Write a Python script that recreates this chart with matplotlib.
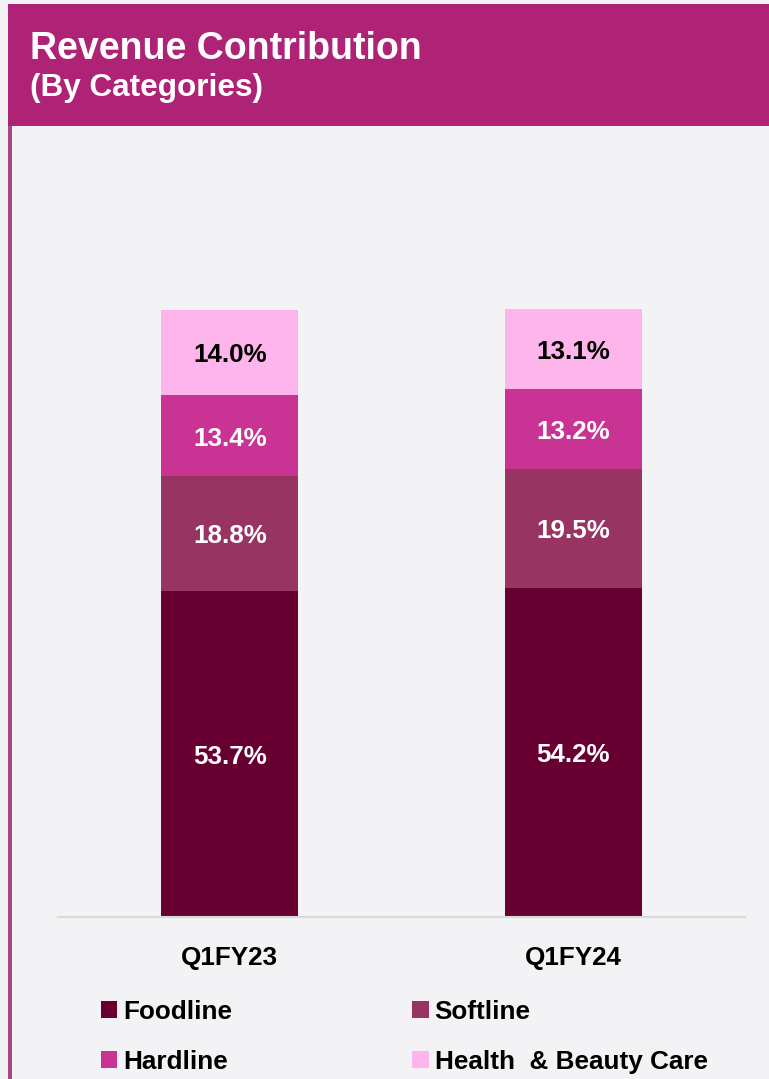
import matplotlib
matplotlib.use("Agg")
import matplotlib.pyplot as plt
from matplotlib.patches import Rectangle
import numpy as np

periods = ["Q1FY23", "Q1FY24"]
categories = ["Foodline", "Softline", "Hardline", "Health  & Beauty Care"]
values = {
    "Foodline": [53.7, 54.2],
    "Softline": [18.8, 19.5],
    "Hardline": [13.4, 13.2],
    "Health  & Beauty Care": [14.0, 13.1],
}
colors = {
    "Foodline": "#670030",
    "Softline": "#983462",
    "Hardline": "#C93394",
    "Health  & Beauty Care": "#FDB5EC",
}
label_colors = {
    "Foodline": "white",
    "Softline": "white",
    "Hardline": "white",
    "Health  & Beauty Care": "black",
}

plt.rcParams["font.family"] = ["Liberation Sans", "DejaVu Sans"]

W, H = 769, 1079
fig = plt.figure(figsize=(W / 100, H / 100), dpi=100)
fig.patch.set_facecolor("#F3F3F5")

def fx(px):
    return px / W

def fy(py):
    return 1 - py / H

# header band
fig.patches.append(Rectangle((fx(8), fy(126)), 1 - fx(8), fy(4) - fy(126),
                             transform=fig.transFigure, facecolor="#AF2377",
                             edgecolor="none", zorder=0))
# left vertical line
fig.patches.append(Rectangle((fx(8), 0), fx(4), fy(126),
                             transform=fig.transFigure, facecolor="#A6497E",
                             edgecolor="none", zorder=0))

fig.text(fx(30), fy(59), "Revenue Contribution", color="white",
         fontsize=27, fontweight="bold", va="baseline", ha="left")
fig.text(fx(30), fy(96), "(By Categories)", color="white",
         fontsize=22.7, fontweight="bold", va="baseline", ha="left")

# axes: bottom at y=916, top at y=200; left x=58, right x=745
ax_left, ax_right = 58, 745
ax_bottom, ax_top = 917, 200
ax = fig.add_axes([fx(ax_left), fy(ax_bottom), fx(ax_right - ax_left),
                   fy(ax_top) - fy(ax_bottom)])
ax.set_facecolor("none")
px_per_unit = 607 / 99.9
ax.set_ylim(0, (ax_bottom - ax_top) / px_per_unit)
ax.set_xlim(-0.5, 1.5)

x = np.arange(len(periods))
bottom = np.zeros(len(periods))
handles = {}
for cat in categories:
    vals = np.array(values[cat])
    bars = ax.bar(x, vals, width=0.4, bottom=bottom, color=colors[cat],
                  edgecolor="none", label=cat, zorder=2)
    ax.bar_label(bars, labels=[f"{v:.1f}%" for v in vals], label_type="center",
                 color=label_colors[cat], fontsize=18.7, fontweight="bold",
                 padding=-2)
    handles[cat] = bars
    bottom += vals

for s in ["top", "right", "left"]:
    ax.spines[s].set_visible(False)
ax.spines["bottom"].set_color("#D9D9D9")
ax.spines["bottom"].set_linewidth(1.5)
ax.set_yticks([])
ax.set_xticks(x)
ax.set_xticklabels(periods, fontsize=18.7, fontweight="bold")
ax.tick_params(axis="x", length=0, pad=21)

order = ["Foodline", "Hardline", "Softline", "Health  & Beauty Care"]
leg = fig.legend([handles[c] for c in order], order, ncol=2,
                 loc="upper left", bbox_to_anchor=(fx(101), fy(1000)),
                 frameon=False, borderpad=0, borderaxespad=0,
                 handlelength=0.62, handleheight=0.62, handletextpad=0.23,
                 columnspacing=6.9, labelspacing=0.98,
                 prop={"size": 18.8, "weight": "bold"})

fig.savefig("out.png", dpi=100, facecolor=fig.get_facecolor())
